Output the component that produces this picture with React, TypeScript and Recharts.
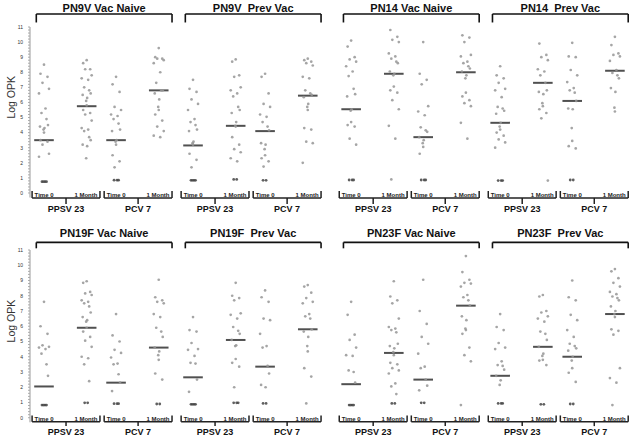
import React from 'react';
import { ScatterChart, Scatter, XAxis, YAxis, ReferenceLine } from 'recharts';

// ---------- text ----------
const titlesTop = ['PN9V Vac Naive', 'PN9V\u00a0 Prev Vac', 'PN14 Vac Naive', 'PN14\u00a0 Prev Vac'];
const titlesBottom = ['PN19F Vac Naive', 'PN19F\u00a0 Prev Vac', 'PN23F Vac Naive', 'PN23F\u00a0 Prev Vac'];
const vaccines = ['PPSV 23', 'PCV 7'];
const timepoints = ['Time 0', '1 Month'];
const yTicks = [0, 1, 2, 3, 4, 5, 6, 7, 8, 9, 10, 11];
const yLabel = 'Log OPK';

// ---------- data (columns: PPSV23 Time 0, PPSV23 1 Month, PCV7 Time 0, PCV7 1 Month) ----------
const pn9vNaive = [
  [8.5, 7.9, 7.7, 7.3, 6.9, 6.6, 5.6, 5.3, 4.9, 4.5, 4.4, 4.3, 4.2, 4.0, 3.5, 3.4, 3.2, 2.6, 2.4, 0.75, 0.75, 0.75, 0.75],
  [8.8, 8.6, 8.2, 8.2, 7.8, 7.6, 7.5, 7.0, 6.8, 6.6, 6.5, 6.3, 6.1, 5.8, 5.5, 5.3, 5.2, 4.8, 4.3, 4.2, 4.1, 3.7, 3.5, 3.2, 3.1, 2.3],
  [7.7, 7.2, 6.7, 5.7, 5.5, 5.2, 5.1, 4.9, 4.6, 4.2, 4.1, 3.5, 3.4, 3.2, 2.5, 2.1, 1.7, 0.85, 0.85, 0.85],
  [9.6, 9.0, 8.9, 8.9, 8.8, 8.6, 8.0, 7.3, 6.8, 6.8, 6.6, 6.2, 5.7, 5.5, 5.2, 4.8, 4.4, 4.1, 3.8, 3.7],
];
const pn9vNaiveMedian = [3.5, 5.75, 3.5, 6.8];

const pn9vPrev = [
  [7.5, 6.9, 6.7, 6.2, 5.9, 5.5, 4.9, 4.7, 4.5, 4.2, 4.1, 3.4, 3.3, 3.2, 2.6, 2.2, 1.7, 0.84, 0.84, 0.84, 0.84],
  [8.85, 8.7, 7.8, 7.7, 7.0, 6.8, 6.6, 6.4, 5.7, 5.5, 5.3, 4.7, 4.45, 4.4, 3.7, 3.2, 2.9, 2.7, 2.3, 2.1, 0.9, 0.9],
  [7.9, 7.7, 6.6, 5.9, 5.7, 5.2, 5.05, 4.7, 4.4, 4.15, 3.3, 3.2, 2.9, 2.5, 2.3, 2.1, 1.75, 0.84, 0.84],
  [8.9, 8.8, 8.7, 8.6, 8.45, 7.7, 7.6, 6.8, 6.6, 6.5, 6.35, 5.9, 5.7, 5.5, 4.3, 4.2, 3.4, 3.3, 2.0],
];
const pn9vPrevMedian = [3.15, 4.45, 4.1, 6.45];

const pn14Naive = [
  [10.1, 9.7, 9.0, 8.85, 8.7, 8.4, 8.05, 7.75, 6.9, 6.55, 6.4, 5.55, 5.45, 4.7, 4.5, 4.4, 3.6, 3.2, 0.86, 0.86, 0.86],
  [11.1, 10.8, 10.35, 10.15, 10.0, 9.25, 9.05, 8.9, 8.7, 8.6, 8.05, 7.9, 7.8, 7.05, 6.8, 6.65, 6.15, 5.55, 4.45, 3.6, 0.9],
  [10.0, 7.9, 7.5, 7.2, 5.75, 5.4, 5.15, 4.35, 4.15, 4.05, 3.7, 3.5, 3.3, 3.05, 2.6, 0.86, 0.86, 0.86],
  [11.1, 10.45, 10.3, 10.0, 9.15, 9.05, 8.7, 8.6, 8.4, 8.25, 8.05, 7.8, 7.6, 6.65, 6.4, 6.15, 5.95, 5.75, 4.65, 3.6],
];
const pn14NaiveMedian = [5.55, 7.9, 3.7, 8.0];

const pn14Prev = [
  [8.4, 7.8, 7.6, 7.3, 6.9, 6.8, 6.35, 5.7, 5.6, 5.45, 5.25, 4.65, 4.4, 4.2, 4.0, 3.8, 3.55, 3.35, 3.0, 0.82, 0.82, 0.82],
  [11.1, 9.9, 9.15, 9.0, 8.8, 8.2, 8.05, 7.8, 7.3, 6.8, 6.7, 6.55, 5.95, 5.75, 5.55, 5.3, 4.95, 0.82],
  [9.95, 9.05, 9.0, 8.15, 7.8, 7.35, 6.95, 6.8, 6.65, 6.1, 5.6, 5.55, 4.3, 3.45, 3.1, 2.95, 0.86, 0.86],
  [10.35, 9.8, 9.25, 9.15, 9.05, 8.75, 8.15, 7.95, 7.8, 7.6, 6.95, 6.7, 5.65, 5.4],
];
const pn14PrevMedian = [4.65, 7.3, 6.1, 8.1];

const pn19fNaive = [
  [7.6, 6.0, 5.5, 4.75, 4.65, 4.6, 4.5, 4.2, 3.5, 2.75, 0.83, 0.83, 0.83, 0.83],
  [8.95, 8.85, 8.25, 8.15, 8.05, 7.7, 7.6, 7.5, 7.3, 6.9, 6.6, 6.4, 6.3, 5.9, 5.65, 5.3, 5.05, 4.65, 4.0, 3.9, 3.5, 2.4, 0.98, 0.98],
  [6.8, 5.4, 5.0, 4.45, 4.25, 3.95, 3.55, 3.5, 2.85, 2.3, 1.75, 0.92, 0.92, 0.92],
  [9.05, 7.9, 7.7, 7.6, 7.5, 6.8, 6.6, 5.9, 5.65, 5.3, 4.6, 4.35, 4.1, 3.8, 2.9, 2.5, 0.9, 0.9],
];
const pn19fNaiveMedian = [2.05, 5.9, 2.3, 4.6];

const pn19fPrev = [
  [6.6, 5.75, 5.65, 4.9, 4.5, 4.45, 4.05, 3.6, 3.55, 2.5, 1.7, 0.88, 0.88, 0.88, 0.88],
  [8.85, 8.0, 7.85, 7.7, 6.85, 6.75, 6.5, 5.95, 5.7, 5.5, 5.1, 4.75, 4.7, 3.85, 3.6, 3.35, 2.0, 0.98, 0.98, 0.98],
  [8.35, 7.9, 7.6, 6.5, 6.4, 5.5, 4.7, 4.6, 3.4, 2.9, 2.15, 2.0, 0.94, 0.94],
  [8.7, 8.6, 8.2, 7.85, 7.6, 7.5, 6.8, 6.65, 6.5, 5.8, 5.65, 5.3, 4.7, 4.35, 3.25, 2.7, 0.94],
];
const pn19fPrevMedian = [2.65, 5.1, 3.35, 5.8];

const pn23fNaive = [
  [7.6, 6.75, 5.45, 5.1, 4.6, 4.1, 4.05, 3.1, 3.0, 2.3, 0.83, 0.83, 0.83, 0.83],
  [8.95, 7.95, 7.7, 7.5, 6.5, 5.95, 5.85, 5.75, 5.6, 4.85, 4.7, 4.55, 4.3, 4.1, 3.6, 3.5, 3.25, 3.1, 2.9, 2.25, 2.05, 1.55, 0.94, 0.94],
  [9.05, 7.0, 6.15, 5.3, 4.85, 4.2, 3.35, 3.25, 2.5, 2.1, 1.8, 0.98, 0.98],
  [10.6, 9.55, 9.05, 8.85, 8.8, 8.6, 8.05, 7.9, 7.7, 7.35, 6.65, 6.4, 5.85, 5.75, 5.5, 4.6, 4.1, 3.7, 0.83],
];
const pn23fNaiveMedian = [2.2, 4.25, 2.5, 7.35];

const pn23fPrev = [
  [6.8, 5.95, 5.75, 4.9, 4.6, 4.5, 3.7, 3.45, 3.4, 3.15, 2.75, 2.45, 2.15, 0.94, 0.94, 0.94],
  [8.05, 7.95, 7.0, 6.9, 6.65, 6.5, 6.3, 5.65, 5.5, 5.1, 4.65, 4.2, 4.05, 3.8, 3.75, 3.45, 0.88, 0.88],
  [9.0, 7.9, 7.7, 6.75, 6.4, 5.75, 5.3, 4.85, 4.7, 4.55, 4.4, 4.0, 3.75, 3.25, 2.95, 2.35, 0.9, 0.9],
  [9.75, 9.6, 9.15, 8.85, 8.6, 8.25, 8.1, 7.95, 7.85, 7.7, 7.3, 7.0, 6.8, 6.6, 5.8, 5.7, 5.45, 3.25, 2.6, 2.3, 0.83],
];
const pn23fPrevMedian = [2.75, 4.65, 4.0, 6.8];

// ---------- layout (in x-axis units: one vaccine group ≈ 1) ----------
const X_DOMAIN: [number, number] = [-0.03, 8.66];
const Y_DOMAIN: [number, number] = [-0.3, 11];
const PANEL_PITCH = 2.13;
const PAIR_EXTRA = 0.13;
const GROUP_PITCH = 1.03;
const GROUP_W = 0.97;
const T_POS = [0.17, 0.78];
const MED_HALF = 0.14;
const JIT = [0, -3.5, 3.5, -1.5, 5, -5, 1.5, -2.5, 2.5, 4, -4, 0.5, -0.5];
const JIT_DUP = [-2, 1, 2.5, -0.5];

const groupStart = (p: number, g: number) => p * PANEL_PITCH + (p >= 2 ? PAIR_EXTRA : 0) + g * GROUP_PITCH;
const slotX = (p: number, c: number) => groupStart(p, c >> 1) + T_POS[c & 1];

const minorTicks = Array.from({ length: 56 }, (_, i) => Math.round(i * 2) / 10);

const rows = [
  {
    titles: titlesTop,
    panels: [pn9vNaive, pn9vPrev, pn14Naive, pn14Prev],
    medians: [pn9vNaiveMedian, pn9vPrevMedian, pn14NaiveMedian, pn14PrevMedian],
    top: 0, height: 218, mTop: 27, mBottom: 20.5,
    titleLine: 11.86, titleTip: 11.3, titleOffset: 2,
    subLine: -0.33, subTip: 0.13, subTick: -0.73, vacOffset: 1.5,
  },
  {
    titles: titlesBottom,
    panels: [pn19fNaive, pn19fPrev, pn23fNaive, pn23fPrev],
    medians: [pn19fNaiveMedian, pn19fPrevMedian, pn23fNaiveMedian, pn23fPrevMedian],
    top: 222, height: 214, mTop: 28, mBottom: 13.7,
    titleLine: 11.5, titleTip: 11.11, titleOffset: 5,
    subLine: -0.27, subTip: 0.15, subTick: -0.55, vacOffset: 2,
  },
];

const renderDot = (props: any) => {
  const { cx, cy, payload } = props;
  if (cx == null || cy == null) return <g />;
  if (payload.dup >= 0) {
    const dx = JIT_DUP[payload.dup % JIT_DUP.length];
    return <circle cx={cx + dx} cy={cy} r={1.4} fill="#444" fillOpacity={0.85} />;
  }
  const dx = JIT[payload.j % JIT.length];
  return <circle cx={cx + dx} cy={cy} r={1.35} fill="#959595" fillOpacity={0.85} />;
};

const renderYTick = (props: any) => {
  const { x, y, payload } = props;
  const v = payload.value;
  if (!yTicks.includes(v)) return <g />;
  return (
    <text x={x} y={y} dy={1.8} textAnchor="end" fontSize={5} fill="#333">
      {v}
    </text>
  );
};

const renderYLabel = (props: any) => {
  const vb = props.viewBox || {};
  const cx = vb.x + 11;
  const cy = vb.y + vb.height / 2 - 15;
  return (
    <text x={cx} y={cy} transform={`rotate(-90 ${cx} ${cy})`} textAnchor="middle" dominantBaseline="central" fontSize={10.5} fill="#333">
      {yLabel}
    </text>
  );
};

function Row({ cfg }: { cfg: any }) {
  const points: any[] = [];
  cfg.panels.forEach((cols: number[][], p: number) =>
    cols.forEach((vals: number[], c: number) =>
      vals.forEach((v: number, j: number) => {
        const same = vals.filter((u) => u === v).length;
        const dup = same > 1 && v < 1.2 ? vals.slice(0, j).filter((u) => u === v).length : -1;
        points.push({ x: slotX(p, c), y: v, j, dup });
      })
    )
  );

  const lines: any[] = [];
  const bracket = { stroke: '#111', strokeWidth: 1.6, ifOverflow: 'visible' as const };
  cfg.panels.forEach((_: any, p: number) => {
    cfg.medians[p].forEach((m: number, c: number) => {
      const sx = slotX(p, c);
      lines.push(
        <ReferenceLine key={`m${p}${c}`} segment={[{ x: sx - MED_HALF, y: m }, { x: sx + MED_HALF, y: m }]} stroke="#505050" strokeWidth={2} ifOverflow="visible" />
      );
    });
    const L = groupStart(p, 0) + 0.06;
    const R = groupStart(p, 1) + GROUP_W;
    lines.push(<ReferenceLine key={`tl${p}`} segment={[{ x: L, y: cfg.titleTip }, { x: L, y: cfg.titleLine }]} {...bracket} />);
    lines.push(<ReferenceLine key={`tr${p}`} segment={[{ x: R, y: cfg.titleTip }, { x: R, y: cfg.titleLine }]} {...bracket} />);
    lines.push(
      <ReferenceLine
        key={`tt${p}`}
        segment={[{ x: L, y: cfg.titleLine }, { x: R, y: cfg.titleLine }]}
        {...bracket}
        label={{ value: cfg.titles[p], position: 'top', offset: cfg.titleOffset, fontSize: 11, fontWeight: 'bold', fill: '#111', stroke: 'none' }}
      />
    );
    [0, 1].forEach((g) => {
      const a = groupStart(p, g);
      const b = a + GROUP_W;
      const mid = (a + b) / 2;
      const sub = { stroke: '#222', strokeWidth: 1.5, ifOverflow: 'visible' as const };
      lines.push(<ReferenceLine key={`sl${p}${g}`} segment={[{ x: a, y: cfg.subLine }, { x: b, y: cfg.subLine }]} {...sub} />);
      lines.push(
        <ReferenceLine key={`sa${p}${g}`} segment={[{ x: a, y: cfg.subLine }, { x: a, y: cfg.subTip }]} {...sub}
          label={{ value: timepoints[0], position: 'right', offset: 2.5, fontSize: 6, fontWeight: 'bold', fill: '#222', stroke: 'none' }} />
      );
      lines.push(
        <ReferenceLine key={`sb${p}${g}`} segment={[{ x: b, y: cfg.subLine }, { x: b, y: cfg.subTip }]} {...sub}
          label={{ value: timepoints[1], position: 'left', offset: 2.5, fontSize: 6, fontWeight: 'bold', fill: '#222', stroke: 'none' }} />
      );
      lines.push(
        <ReferenceLine key={`sc${p}${g}`} segment={[{ x: mid, y: cfg.subLine }, { x: mid, y: cfg.subTick }]} {...sub}
          label={{ value: vaccines[g], position: 'bottom', offset: cfg.vacOffset, fontSize: 9, fontWeight: 'bold', fill: '#111', stroke: 'none' }} />
      );
    });
  });

  return (
    <div style={{ position: 'absolute', left: 0, top: cfg.top }}>
      <ScatterChart width={638} height={cfg.height} margin={{ top: cfg.mTop, right: 0, bottom: cfg.mBottom, left: 0 }}>
        <XAxis type="number" dataKey="x" domain={X_DOMAIN} hide allowDataOverflow />
        <YAxis
          type="number"
          dataKey="y"
          domain={Y_DOMAIN}
          allowDataOverflow
          ticks={minorTicks}
          interval={0}
          width={30}
          tickSize={2}
          tickMargin={5}
          tick={renderYTick}
          axisLine={{ stroke: '#999' }}
          tickLine={{ stroke: '#aaa' }}
          label={renderYLabel}
        />
        {lines}
        <Scatter data={points} isAnimationActive={false} shape={renderDot} />
      </ScatterChart>
    </div>
  );
}

export default function App() {
  return (
    <div
      style={{
        position: 'absolute', left: 0, top: 0, width: 638, height: 436, overflow: 'hidden',
        background: '#fff', fontFamily: '"Liberation Sans", Arial, sans-serif',
      }}
    >
      {rows.map((cfg, i) => (
        <Row key={i} cfg={cfg} />
      ))}
    </div>
  );
}
